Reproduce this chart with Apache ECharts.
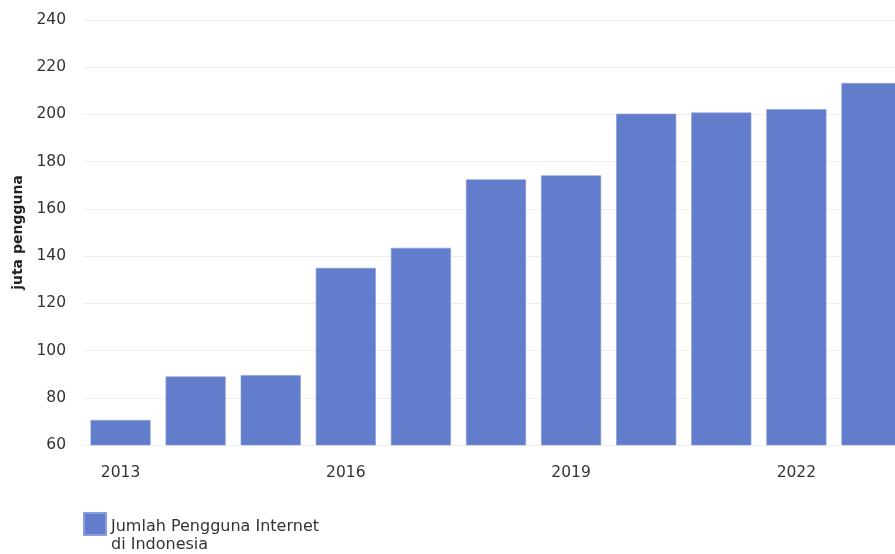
<!DOCTYPE html>
<html>
<head>
<meta charset="utf-8">
<script src="https://cdn.jsdelivr.net/npm/echarts@6/dist/echarts.min.js"></script>
<style>
html,body{margin:0;padding:0;background:#fff;overflow:hidden;width:895px;height:554px;}
#chart{width:909px;height:554px;}
</style>
</head>
<body>
<div id="chart"></div>
<script>
const categories = ['2013','2014','2015','2016','2017','2018','2019','2020','2021','2022','2023'];
const values = [70.6, 89, 89.6, 135, 143.5, 172.5, 174.2, 200.3, 200.8, 202.2, 213.3];
const seriesName = 'Jumlah Pengguna Internet\ndi Indonesia';
const yAxisName = 'juta pengguna';
const yMin = 60, yMax = 240, yStep = 20;

const chart = echarts.init(document.getElementById('chart'), null, {renderer:'canvas'});
chart.setOption({
  animation: false,
  backgroundColor: '#ffffff',
  grid: {left: 83, top: 20, right: 0, height: 425, containLabel: false},
  legend: {
    show: true,
    left: 83, top: 504,
    padding: 0,
    itemWidth: 22, itemHeight: 22,
    icon: 'rect',
    data: [seriesName],
    formatter: function (name) {
      return '{s| }\n' + name.split('\n').map(function (l) { return '{t|' + l + '}'; }).join('\n');
    },
    textStyle: {
      fontFamily: 'DejaVu Sans', fontSize: 16, color: '#333',
      rich: {
        s: {fontSize: 4, lineHeight: 23},
        t: {fontFamily: 'DejaVu Sans', fontSize: 16, color: '#333', lineHeight: 18}
      }
    }
  },
  xAxis: {
    type: 'category',
    data: categories,
    axisLine: {show: false},
    axisTick: {show: false},
    axisLabel: {interval: 2, margin: 20, fontFamily: 'DejaVu Sans', fontSize: 15.5, color: '#333'}
  },
  yAxis: {
    type: 'value',
    min: yMin, max: yMax, interval: yStep,
    name: yAxisName,
    nameLocation: 'middle',
    nameGap: 52,
    nameRotate: 90,
    nameTextStyle: {fontFamily: 'DejaVu Sans', fontWeight: 'bold', fontSize: 14, color: '#222'},
    axisLine: {show: false},
    axisTick: {show: false},
    splitLine: {lineStyle: {color: '#eeeeee', width: 1}},
    axisLabel: {margin: 17, fontFamily: 'DejaVu Sans', fontSize: 15.5, color: '#333'}
  },
  series: [{
    name: seriesName,
    type: 'bar',
    data: values,
    barCategoryGap: '20%',
    itemStyle: {color: '#617dcb', borderColor: '#8a9ddc', borderWidth: 0.6}
  }]
});
</script>
</body>
</html>
